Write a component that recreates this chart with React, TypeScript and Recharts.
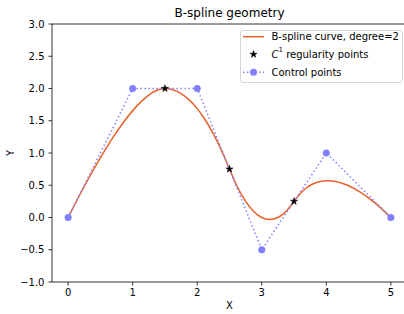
import React from "react";
import {
  ComposedChart,
  Line,
  Scatter,
  XAxis,
  YAxis,
  ReferenceLine,
  Legend,
  Symbols,
} from "recharts";

const curveX = [
  0, 0.242, 0.469, 0.68, 0.875, 1.055, 1.219, 1.367, 1.5,
  1.625, 1.75, 1.875, 2.0, 2.125, 2.25, 2.375, 2.5,
  2.625, 2.75, 2.875, 3.0, 3.125, 3.25, 3.375, 3.5,
  3.633, 3.781, 3.945, 4.02, 4.125, 4.32, 4.531, 4.758, 5,
];
const curveY = [
  0, 0.469, 0.875, 1.219, 1.5, 1.719, 1.875, 1.969, 2.0,
  1.98, 1.922, 1.824, 1.688, 1.512, 1.297, 1.043, 0.75,
  0.469, 0.25, 0.094, 0.0, -0.031, 0.0, 0.094, 0.25,
  0.41, 0.516, 0.566, 0.571, 0.563, 0.504, 0.391, 0.223, 0,
];

// C1 regularity points
const regX = [1.5, 2.5, 3.5];
const regY = [2, 0.75, 0.25];

// Control points
const ctrlX = [0, 1, 2, 3, 4, 5];
const ctrlY = [0, 2, 2, -0.5, 1, 0];

const xTicks = [0, 1, 2, 3, 4, 5];
const yTicks = [-1, -0.5, 0, 0.5, 1, 1.5, 2, 2.5, 3];

const curveData = curveX.map((x, i) => ({ x, y: curveY[i] }));
const regData = regX.map((x, i) => ({ x, y: regY[i] }));
const ctrlData = ctrlX.map((x, i) => ({ x, y: ctrlY[i] }));

const FONT = "'DejaVu Sans', sans-serif";
const ORANGE = "#e8612a";
const BLUE = "#8080ff";

const fmtY = (v: number) => v.toFixed(1).replace("-", "\u2212");

const StarShape = (props: any) => (
  <Symbols cx={props.cx} cy={props.cy} type="star" size={16} fill="#000" stroke="#000" strokeWidth={0.5} />
);

const LegendBox = () => (
  <svg width={163} height={53} style={{ display: "block" }}>
    <rect x={0.5} y={0.5} width={162} height={52} rx={2.5} ry={2.5} fill="#fff" fillOpacity={0.8} stroke="#d6d6d6" strokeWidth={1} />
    <line x1={3} x2={24} y1={6.7} y2={6.7} stroke={ORANGE} strokeWidth={1.5} />
    <text x={31.5} y={6.7} dominantBaseline="central" fontSize={10} fontFamily={FONT} fill="#000">
      B-spline curve, degree=2
    </text>
    <Symbols cx={13.5} cy={24.3} type="star" size={16} fill="#000" stroke="#000" strokeWidth={0.5} />
    <text x={31.5} y={24.3} dominantBaseline="central" fontSize={10} fontFamily={FONT} fill="#000">
      <tspan fontStyle="italic">C</tspan>
      <tspan fontSize={7} dy={-4}>1</tspan>
      <tspan dy={4}> regularity points</tspan>
    </text>
    <line x1={3} x2={24} y1={42.3} y2={42.3} stroke={BLUE} strokeWidth={1.5} strokeDasharray="1.5 2.5" />
    <circle cx={13.5} cy={42.3} r={3.5} fill={BLUE} />
    <text x={31.5} y={42.3} dominantBaseline="central" fontSize={10} fontFamily={FONT} fill="#000">
      Control points
    </text>
  </svg>
);

export default function App() {
  return (
    <div style={{ position: "absolute", left: 0, top: 0, width: 404, height: 314, overflow: "hidden", background: "#fff" }}>
      <div
        style={{
          position: "absolute",
          left: 0,
          width: 459,
          top: 6,
          textAlign: "center",
          fontFamily: FONT,
          fontSize: 12,
          lineHeight: "15px",
          color: "#000",
          zIndex: 2,
        }}
      >
        B-spline geometry
      </div>
      <ComposedChart width={410} height={314} margin={{ top: 24, right: 3, bottom: 0, left: 0 }}>
        <XAxis
          dataKey="x"
          type="number"
          domain={[-0.25, 5.25]}
          ticks={xTicks}
          allowDataOverflow
          height={32}
          tickSize={3.5}
          tickMargin={3.5}
          stroke="#000"
          strokeWidth={0.8}
          tick={{ fill: "#000", fontSize: 10, fontFamily: FONT }}
          tickLine={{ stroke: "#000", strokeWidth: 0.8 }}
          label={{
            content: (p: any) => (
              <text x={p.viewBox.x + p.viewBox.width / 2} y={305} textAnchor="middle" dominantBaseline="central" fontSize={10} fontFamily={FONT} fill="#000">
                X
              </text>
            ),
          }}
        />
        <YAxis
          dataKey="y"
          type="number"
          domain={[-1, 3]}
          ticks={yTicks}
          allowDataOverflow
          width={52}
          tickSize={3.5}
          tickMargin={4}
          tickFormatter={fmtY}
          stroke="#000"
          strokeWidth={0.8}
          tick={{ fill: "#000", fontSize: 10, fontFamily: FONT }}
          tickLine={{ stroke: "#000", strokeWidth: 0.8 }}
          label={{
            content: (p: any) => (
              <text
                x={10}
                y={p.viewBox.y + p.viewBox.height / 2}
                textAnchor="middle"
                dominantBaseline="central"
                fontSize={10}
                fontFamily={FONT}
                fill="#000"
                transform={`rotate(-90 10 ${p.viewBox.y + p.viewBox.height / 2})`}
              >
                Y
              </text>
            ),
          }}
        />
        <ReferenceLine y={3} stroke="#000" strokeWidth={0.8} ifOverflow="extendDomain" />
        <Line
          data={curveData}
          dataKey="y"
          type="natural"
          stroke={ORANGE}
          strokeWidth={1.5}
          dot={false}
          activeDot={false}
          isAnimationActive={false}
          legendType="line"
        />
        <Scatter data={regData} dataKey="y" shape={StarShape} isAnimationActive={false} />
        <Line
          data={ctrlData}
          dataKey="y"
          type="linear"
          stroke={BLUE}
          strokeWidth={1.5}
          strokeDasharray="1.5 2.5"
          dot={{ r: 3.5, fill: BLUE, stroke: BLUE, strokeWidth: 0, strokeDasharray: "" }}
          activeDot={false}
          isAnimationActive={false}
        />
        <Legend
          layout="vertical"
          align="center"
          verticalAlign="middle"
          content={() => <LegendBox />}
          wrapperStyle={{ position: "absolute", left: 240, top: 30, width: 163, height: 53 }}
        />
      </ComposedChart>
    </div>
  );
}
